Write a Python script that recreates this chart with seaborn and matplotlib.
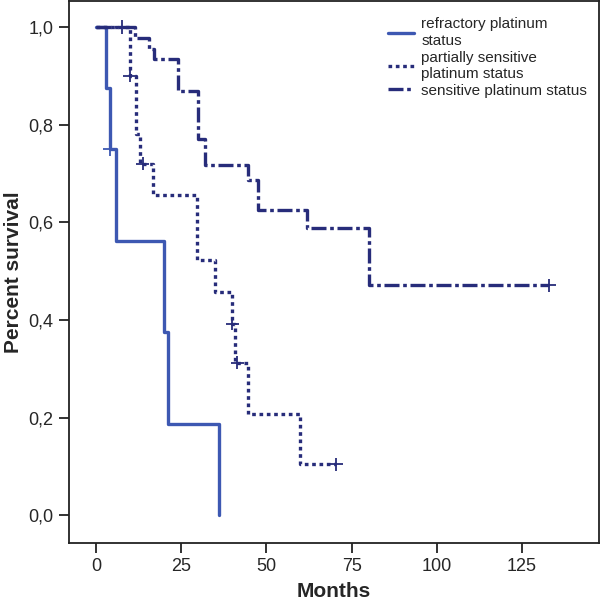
import seaborn as sns
import matplotlib.pyplot as plt
import pandas as pd

# Kaplan-Meier step values
groups = ['refractory platinum\nstatus', 'partially sensitive\nplatinum status', 'sensitive platinum status']

refr_t = [0, 3, 4, 6, 20, 21, 36]
refr_s = [1.0, 0.875, 0.75, 0.5625, 0.375, 0.1875, 0.0]
refr_cens_t = [4]
refr_cens_s = [0.75]

part_t = [0, 10, 11.7, 13, 16.7, 29.7, 35, 40, 40.8, 44.6, 60, 70.5]
part_s = [1.0, 0.9, 0.78, 0.72, 0.655, 0.5225, 0.458, 0.392, 0.3125, 0.208, 0.104, 0.104]
part_cens_t = [10, 13.7, 40, 41.5, 70.5]
part_cens_s = [0.9, 0.72, 0.392, 0.3125, 0.104]

sens_t = [0, 11.5, 15.5, 17, 24, 30, 32, 44.5, 47.5, 62, 80, 133]
sens_s = [1.0, 0.978, 0.956, 0.935, 0.869, 0.77, 0.717, 0.686, 0.625, 0.589, 0.471, 0.471]
sens_cens_t = [7.6, 133]
sens_cens_s = [1.0, 0.471]

x_ticks = [0, 25, 50, 75, 100, 125]
y_ticks = [0.0, 0.2, 0.4, 0.6, 0.8, 1.0]

colors = ['#3d58b2', '#272c7a', '#272c7a']

curves = pd.concat([
    pd.DataFrame({'time': refr_t, 'surv': refr_s, 'group': groups[0]}),
    pd.DataFrame({'time': part_t, 'surv': part_s, 'group': groups[1]}),
    pd.DataFrame({'time': sens_t, 'surv': sens_s, 'group': groups[2]}),
], ignore_index=True)

cens = pd.concat([
    pd.DataFrame({'time': refr_cens_t, 'surv': refr_cens_s, 'group': groups[0]}),
    pd.DataFrame({'time': part_cens_t, 'surv': part_cens_s, 'group': groups[1]}),
    pd.DataFrame({'time': sens_cens_t, 'surv': sens_cens_s, 'group': groups[2]}),
], ignore_index=True)

sns.set_style('ticks')
plt.rcParams['font.family'] = ['Liberation Sans', 'DejaVu Sans']

fig = plt.figure(figsize=(6, 6.02), dpi=100)
ax = fig.add_axes([0.115, 0.098, 0.883, 0.9])

palette = dict(zip(groups, colors))
dashes = {groups[0]: '', groups[1]: (1.1, 1.1), groups[2]: (4.5, 1.1, 1.1, 1.1)}

sns.lineplot(data=curves, x='time', y='surv', hue='group', style='group',
             palette=palette, dashes=dashes, estimator=None, sort=False,
             drawstyle='steps-post', linewidth=2.4, ax=ax)
sns.scatterplot(data=cens, x='time', y='surv', hue='group', palette=palette,
                marker='+', s=90, linewidth=1.3, legend=False, ax=ax, zorder=5)

ax.set_xlim(-7.9, 147.5)
ax.set_ylim(-0.057, 1.053)
ax.set_xticks(x_ticks)
ax.set_yticks(y_ticks)
ax.set_xticklabels([str(t) for t in x_ticks], fontsize=13)
ax.set_yticklabels([f"{v:.1f}".replace('.', ',') for v in y_ticks], fontsize=13)
ax.tick_params(direction='out', length=7, width=1.3, color='#222222', pad=4)
for sp in ax.spines.values():
    sp.set_linewidth(1.3)
    sp.set_color('#222222')

ax.set_xlabel('Months', fontsize=15, fontweight='bold', labelpad=5)
ax.set_ylabel('Percent survival', fontsize=15, fontweight='bold', labelpad=4)

leg = ax.legend(loc='upper right', bbox_to_anchor=(0.998, 0.99), frameon=False,
                fontsize=11, handlelength=1.65, handletextpad=0.5,
                labelspacing=0.2, borderaxespad=0.3)
for line in leg.get_lines():
    line.set_linewidth(2.4)

plt.savefig('out.png', dpi=100)
